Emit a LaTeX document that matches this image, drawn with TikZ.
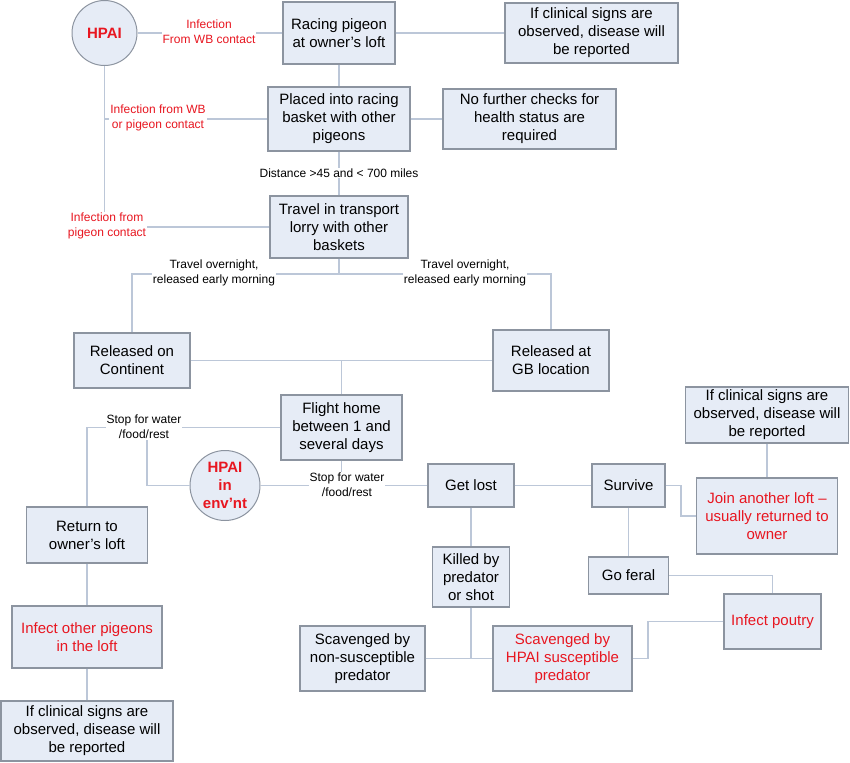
\documentclass[tikz,border=0pt]{standalone}
\usepackage{fontspec}
\setmainfont{Liberation Sans}
\definecolor{boxfill}{RGB}{230,236,246}
\definecolor{boxline}{RGB}{140,148,160}
\definecolor{conn}{RGB}{188,199,216}
\definecolor{hred}{RGB}{232,22,32}
\tikzset{
  box/.style={draw=boxline, fill=boxfill, line width=1.3pt, inner sep=0pt, align=center,
     font=\fontsize{15}{18}\selectfont, text=black},
  redbox/.style={box, text=hred},
  circ/.style={circle, draw=boxline, fill=boxfill, line width=1pt, inner sep=0pt, align=center,
     font=\fontsize{15}{18}\selectfont\bfseries, text=hred},
  lab/.style={fill=white, inner sep=1pt, align=center, font=\fontsize{12}{15}\selectfont, text=black},
  redlab/.style={lab, text=hred},
  link/.style={draw=conn, line width=1.3pt},
}
\newcommand{\bx}[6]{\node[#1, minimum width=#4pt, minimum height=#5pt] (#6) at (#2,#3)}
\begin{document}
\begin{tikzpicture}[x=1pt,y=-1pt]
\useasboundingbox (0,0) rectangle (850,762);
% nodes
\bx{box}{339}{33}{112}{62}{racing} {Racing pigeon\\at owner's loft};
\bx{box}{591.5}{33}{173}{60}{clinA} {If clinical signs are\\observed, disease will\\be reported};
\bx{box}{339}{119}{142}{64}{placed} {Placed into racing\\basket with other\\pigeons};
\bx{box}{529.5}{119}{173}{60}{nofurther} {No further checks for\\health status are\\required};
\bx{box}{339}{227}{138}{62}{lorry} {Travel in transport\\lorry with other\\baskets};
\bx{box}{132}{360.5}{116}{55}{cont} {Released on\\Continent};
\bx{box}{551}{360.5}{116}{61}{gb} {Released at\\GB location};
\bx{box}{341.5}{427.5}{121}{65}{flight} {Flight home\\between 1 and\\several days};
\bx{box}{471}{485.5}{86}{43}{lost} {Get lost};
\bx{box}{628.5}{485.5}{73}{43}{survive} {Survive};
\bx{box}{767}{415}{163}{56}{clinB} {If clinical signs are\\observed, disease will\\be reported};
\bx{redbox}{767}{516}{141}{76}{join} {Join another loft --\\usually returned to\\owner};
\bx{box}{87}{535}{121}{56}{return} {Return to\\owner's loft};
\bx{redbox}{87}{637}{150}{62}{infother} {Infect other pigeons\\in the loft};
\bx{box}{87}{731}{172}{60}{clinC} {If clinical signs are\\observed, disease will\\be reported};
\bx{box}{471}{577}{77}{60}{killed} {Killed by\\predator\\or shot};
\bx{box}{628.5}{575.5}{80}{37}{feral} {Go feral};
\bx{redbox}{772.5}{621.5}{97}{55}{poultry} {Infect poutry};
\bx{box}{362.5}{658.5}{125}{65}{scavnon} {Scavenged by\\non-susceptible\\predator};
\bx{redbox}{562.5}{658.5}{139}{65}{scavhpai} {Scavenged by\\HPAI susceptible\\predator};
\node[circ, minimum size=65pt] (hpai) at (104.5,33) {HPAI};
\node[circ, minimum size=70pt] (env) at (225,485.5) {HPAI\\in\\env'nt};
% coordinates
\coordinate (split) at (339,274);
\coordinate (mid) at (341.5,360.5);
\coordinate (stopL) at (87,427.5);
\coordinate (branch) at (147,427.5);
\coordinate (stopR) at (341.5,485.5);
\coordinate (killjoin) at (471,658.5);
\coordinate (survR) at (681,485.5);
\coordinate (poulL) at (648,621.5);
% connectors
\draw[link] (hpai.east) -- (racing.west);
\draw[link] (racing.east) -- (clinA.west);
\draw[link] (racing.south) -- (placed.north);
\draw[link] (placed.east) -- (nofurther.west);
\draw[link] (hpai.south) |- (placed.west);
\draw[link] (hpai.south) |- (lorry.west);
\draw[link] (placed.south) -- (lorry.north);
\draw[link] (lorry.south) -- (split);
\draw[link] (split) -| (cont.north);
\draw[link] (split) -| (gb.north);
\draw[link] (cont.east) -- (gb.west);
\draw[link] (mid) -- (flight.north);
\draw[link] (flight.west) -- (stopL) -- (return.north);
\draw[link] (branch) |- (env.west);
\draw[link] (flight.south) -- (stopR);
\draw[link] (env.east) -- (lost.west);
\draw[link] (lost.east) -- (survive.west);
\draw[link] (survive.east) -- (survR) |- (join.west);
\draw[link] (clinB.south) -- (join.north);
\draw[link] (return.south) -- (infother.north);
\draw[link] (infother.south) -- (clinC.north);
\draw[link] (lost.south) -- (killed.north);
\draw[link] (killed.south) -- (killjoin);
\draw[link] (scavnon.east) -- (scavhpai.west);
\draw[link] (survive.south) -- (feral.north);
\draw[link] (feral.east) -| (poultry.north);
\draw[link] (poultry.west) -- (poulL) |- (scavhpai.east);
% labels
\node[redlab] (l1) at (209,32) {Infection\\From WB contact};
\node[redlab] (l2) at (158,118) {Infection from WB\\or pigeon contact};
\node[redlab] (l3) at (107,226) {Infection from\\pigeon contact};
\node[lab] (l4) at (339,173) {Distance >45 and < 700 miles};
\node[lab] (l5) at (214,273) {Travel overnight,\\released early morning};
\node[lab] (l6) at (465,273) {Travel overnight,\\released early morning};
\node[lab] (l7) at (144,427) {Stop for water\\/food/rest};
\node[lab] (l8) at (347,485) {Stop for water\\/food/rest};
\end{tikzpicture}
\end{document}
